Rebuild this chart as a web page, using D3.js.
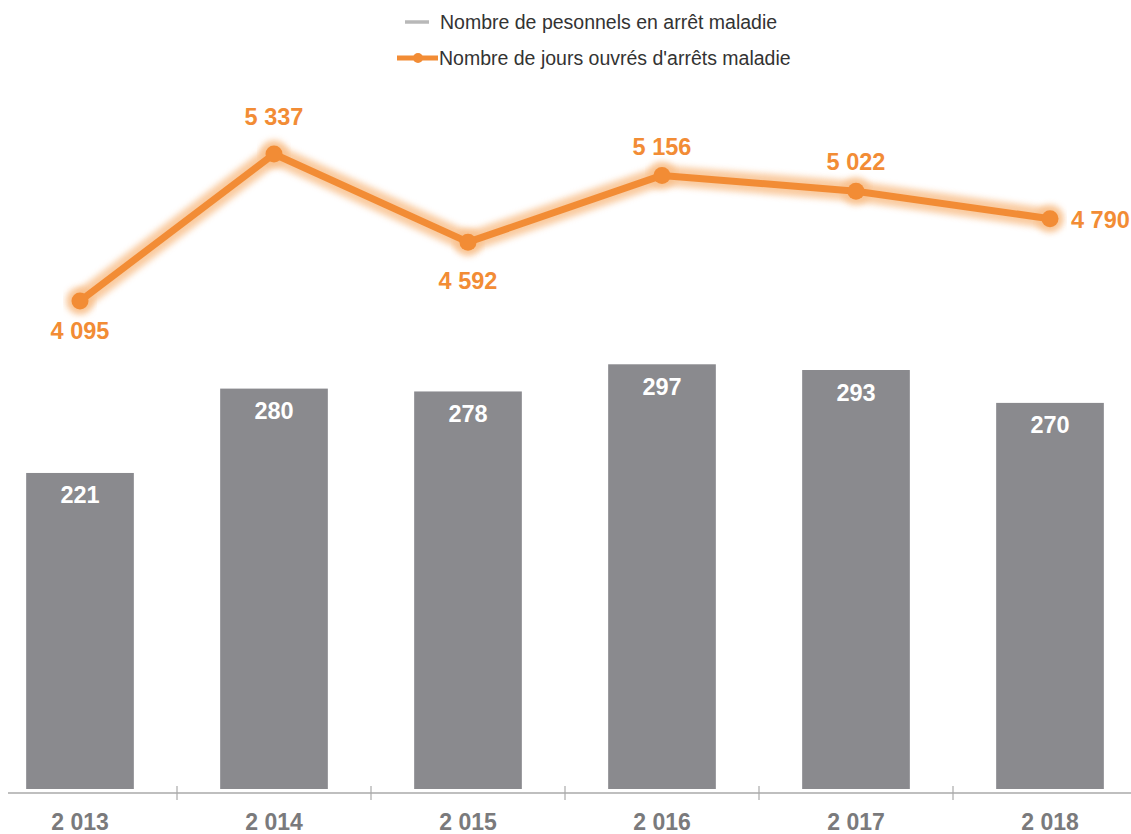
<!DOCTYPE html>
<html><head><meta charset="utf-8">
<script src="https://cdn.jsdelivr.net/npm/d3@7"></script>
<style>body{margin:0;background:#fff}svg{display:block}</style>
</head><body>
<svg id="c" width="1131" height="834"></svg>
<script>
const years = ["2 013","2 014","2 015","2 016","2 017","2 018"];
const personnels = [221, 280, 278, 297, 293, 270];
const jours = [4095, 5337, 4592, 5156, 5022, 4790];
const joursLabels = ["4 095","5 337","4 592","5 156","5 022","4 790"];
const labelPos = ["below","above","below","above","above","right"];
const legendLabels = ["Nombre de pesonnels en arrêt maladie","Nombre de jours ouvrés d'arrêts maladie"];

const svg = d3.select("#c");
const font = "Liberation Sans, Arial, sans-serif";
const orange = "#f28c35", grey = "#8a8a8e";

const x = d3.scaleBand().domain(years).range([-17, 1147]).padding(0);
const bw = x.bandwidth()*0.555;
const yBar = d3.scaleLinear().domain([0, 300]).range([789, 360]);
const yLine = d3.scaleLinear().domain([4000, 5500]).range([312.2, 134.7]);

const defs = svg.append("defs");
defs.append("filter").attr("id","blur").attr("x","-10%").attr("y","-50%").attr("width","120%").attr("height","200%")
  .append("feGaussianBlur").attr("stdDeviation", 3);
defs.append("filter").attr("id","soft")
  .append("feGaussianBlur").attr("stdDeviation", 0.6);

// bars
svg.append("g").attr("filter","url(#soft)").selectAll("rect").data(personnels).join("rect")
  .attr("x",(d,i)=>x(years[i])+x.bandwidth()/2-bw/2)
  .attr("y",d=>yBar(d)).attr("width",bw).attr("height",d=>yBar(0)-yBar(d))
  .attr("fill",grey);
svg.append("g").selectAll("text").data(personnels).join("text")
  .attr("x",(d,i)=>x(years[i])+x.bandwidth()/2)
  .attr("y",d=>yBar(d)+30.5).attr("text-anchor","middle")
  .attr("font-family",font).attr("font-weight","bold").attr("font-size",23.5)
  .attr("fill","#fff").text(d=>d);

// axis
const axisY = 793;
svg.append("line").attr("x1",8).attr("x2",1131).attr("y1",axisY).attr("y2",axisY)
  .attr("stroke","#aaa").attr("stroke-width",1.3);
svg.append("g").selectAll("line").data(years.slice(1)).join("line")
  .attr("x1",d=>x(d)).attr("x2",d=>x(d)).attr("y1",786).attr("y2",800)
  .attr("stroke","#aaa").attr("stroke-width",1.2);
svg.append("g").selectAll("text").data(years).join("text")
  .attr("x",d=>x(d)+x.bandwidth()/2).attr("y",830).attr("text-anchor","middle")
  .attr("font-family",font).attr("font-weight","bold").attr("font-size",23)
  .attr("fill","#7a7a7c").text(d=>d);

// line
const pts = jours.map((v,i)=>[x(years[i])+x.bandwidth()/2, yLine(v)]);
const line = d3.line();
svg.append("path").attr("d",line(pts)).attr("fill","none").attr("stroke","#f8be88")
  .attr("stroke-width",20).attr("stroke-linejoin","round").attr("stroke-linecap","round")
  .attr("opacity",0.8).attr("filter","url(#blur)");
svg.append("g").selectAll("circle.g").data(pts).join("circle")
  .attr("cx",d=>d[0]).attr("cy",d=>d[1]).attr("r",14).attr("fill","#f8be88").attr("opacity",0.75)
  .attr("filter","url(#blur)");
svg.append("path").attr("d",line(pts)).attr("fill","none").attr("stroke",orange)
  .attr("stroke-width",7).attr("stroke-linejoin","round");
svg.append("g").selectAll("circle.m").data(pts).join("circle")
  .attr("cx",d=>d[0]).attr("cy",d=>d[1]).attr("r",8.5).attr("fill",orange);

const labelDy = [38.5, -28.5, 46.5, -20.5, -21.5, 9.5];
svg.append("g").selectAll("text").data(jours).join("text")
  .attr("x",(d,i)=>labelPos[i]==="right"? pts[i][0]+21 : pts[i][0])
  .attr("y",(d,i)=>pts[i][1]+labelDy[i])
  .attr("text-anchor",(d,i)=>labelPos[i]==="right"?"start":"middle")
  .attr("font-family",font).attr("font-weight","bold").attr("font-size",23.5)
  .attr("fill",orange).text((d,i)=>joursLabels[i]);

// legend
const lg = svg.append("g");
lg.append("line").attr("x1",405).attr("x2",429).attr("y1",22).attr("y2",22)
  .attr("stroke","#b8b8b8").attr("stroke-width",3.5);
lg.append("text").attr("x",440).attr("y",29).attr("font-family",font).attr("font-size",19.5)
  .attr("fill","#333").text(legendLabels[0]);
lg.append("line").attr("x1",397).attr("x2",438).attr("y1",58).attr("y2",58)
  .attr("stroke",orange).attr("stroke-width",5);
lg.append("circle").attr("cx",418).attr("cy",58).attr("r",5).attr("fill",orange);
lg.append("text").attr("x",439).attr("y",65).attr("font-family",font).attr("font-size",19.5)
  .attr("fill","#333").text(legendLabels[1]);
</script>
</body></html>
